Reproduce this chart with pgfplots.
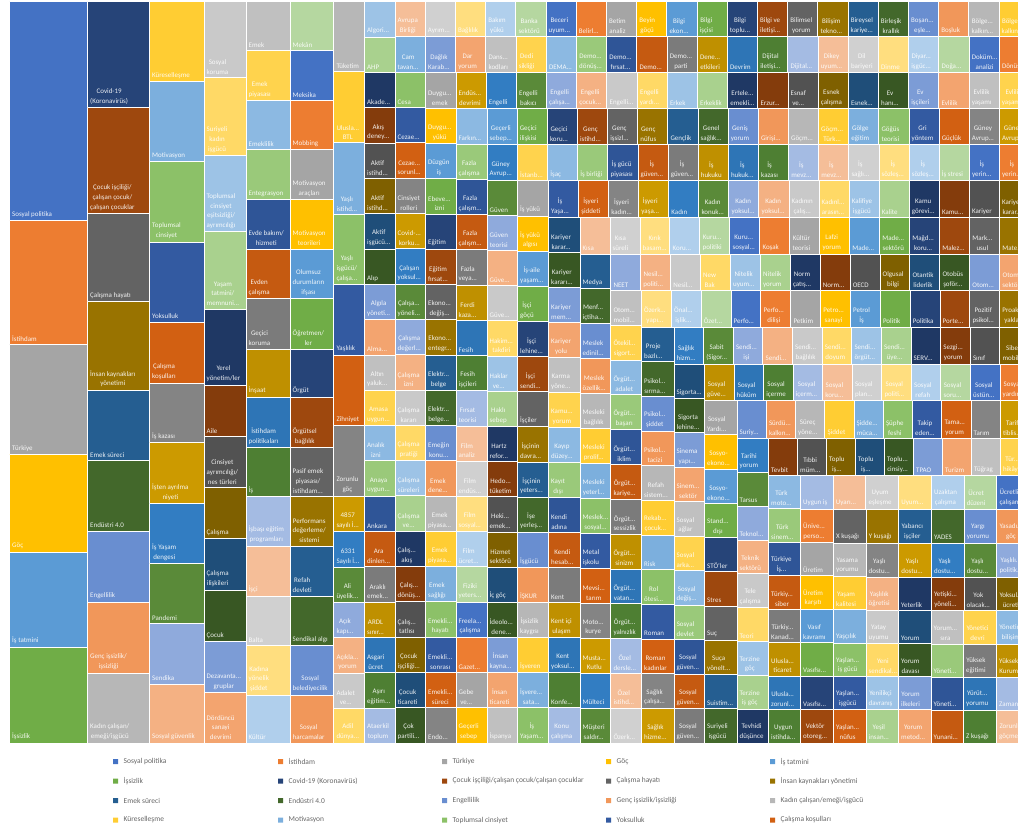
\documentclass[border=0pt]{standalone}
\usepackage{fontspec}
\setmainfont{Carlito}
\usepackage{pgfplots}
\pgfplotsset{compat=1.18}
\def\defc#1#2{\definecolor{c#1}{HTML}{#2}}
\defc{0}{4472C4}\defc{1}{ED7D31}\defc{2}{A5A5A5}\defc{3}{FFC000}\defc{4}{5B9BD5}\defc{5}{70AD47}
\defc{6}{264478}\defc{7}{9E480E}\defc{8}{636363}\defc{9}{997300}\defc{10}{255E91}\defc{11}{43682B}
\defc{12}{698ED0}\defc{13}{F1975A}\defc{14}{B7B7B7}\defc{15}{FFCD33}\defc{16}{7CAFDD}\defc{17}{8CC168}
\defc{18}{335AA1}\defc{19}{D26012}\defc{20}{848484}\defc{21}{CC9A00}\defc{22}{327DC2}\defc{23}{5A8A39}
\defc{24}{8FAADC}\defc{25}{F4B183}\defc{26}{C9C9C9}\defc{27}{FFD966}\defc{28}{9DC3E6}\defc{29}{A9D18E}
\defc{30}{1F3864}\defc{31}{843C0C}\defc{32}{525252}\defc{33}{7F6000}\defc{34}{1F4E79}\defc{35}{385723}
\defc{36}{7C9CD6}\defc{37}{F3A46F}\defc{38}{C0C0C0}\defc{39}{FFD34D}\defc{40}{8CB9E2}\defc{41}{9AC97A}
\defc{42}{2F5597}\defc{43}{C55A11}\defc{44}{7B7B7B}\defc{45}{BF9000}\defc{46}{2E75B6}\defc{47}{4E7F33}
\defc{48}{A4BBE3}\defc{49}{F5BE98}\defc{50}{D0D0D0}\defc{51}{FFDE7F}\defc{52}{B0CFEC}\defc{53}{B5D7A0}
\newcommand\m{...}
\newcommand\sla{/}
\newcounter{cidx}
\pgfplotsset{lab/.style={}}
\tikzset{lab/.style={anchor=south west,font=\fontsize{7}{9.8}\selectfont,text=white,text opacity=.9,align=center,inner xsep=2.5bp,inner ysep=3bp},
 leg/.style={anchor=west,font=\fontsize{7.5}{9}\selectfont,text=black!60,inner sep=0pt}}
\newcommand\cellx[5]{\edef\temp{\noexpand\addplot[forget plot,fill=c\arabic{cidx},draw=white,line width=1bp] coordinates {(#2,#3)(#4,#3)(#4,#5)(#2,#5)(#2,#3)};
 \noexpand\node[lab] at (axis cs:#2,#5) {\unexpanded{#1}};}\temp
 \stepcounter{cidx}\ifnum\value{cidx}=54 \setcounter{cidx}{0}\fi}
\newcommand\vstrip[4]{\xdef\cur{#3}\foreach \ee/\lb in {#4}{\expandafter\cellx\expandafter{\lb}{#1}{\cur}{#2}{\ee}\xdef\cur{\ee}}}
\newcommand\hstrip[4]{\xdef\cur{#3}\foreach \ee/\lb in {#4}{\expandafter\cellx\expandafter{\lb}{\cur}{#1}{\ee}{#2}\xdef\cur{\ee}}}
\newcommand\swatch[4]{\addplot[forget plot,fill=c#3,draw=none] coordinates {(#1,#2-2.5)(#1+5,#2-2.5)(#1+5,#2+2.5)(#1,#2+2.5)(#1,#2-2.5)};
 \node[leg] at (axis cs:#1+10.5,#2) {#4};}
\begin{document}
\begin{tikzpicture}
\path[use as bounding box] (0,0) rectangle (1018bp,834bp);
\clip (0,0) rectangle (1018bp,834bp);
\begin{axis}[at={(0,0)},anchor=south west,width=1018bp,height=834bp,scale only axis,hide axis,
 xmin=0,xmax=1018,ymin=0,ymax=834,y dir=reverse,enlargelimits=false,clip=false]
\vstrip{9.5}{87.5}{2}{221/Sosyal politika,344.7/İstihdam,454.5/Türkiye,552/Göç,647/İş tatmini,743/İşsizlik}
\vstrip{87.5}{149.5}{2}{107.7/Covid-19\\(Koronavirüs),213.5/Çocuk işçiliği\sla\\çalışan çocuk\sla\\çalışan çocuklar,301.7/Çalışma hayatı,390.3/İnsan kaynakları\\yönetimi,460.5/Emek süreci,531/Endüstri 4.0,602/Engellilik,673/Genç işsizlik\sla\\işsizliği,743/Kadın çalışan\sla\\emeği\sla işgücü}
\vstrip{149.5}{204}{2}{82/Küreselleşme,162/Motivasyon,242/Toplumsal\\cinsiyet,322/Yoksulluk,383/Çalışma\\koşulları,442.5/İş kazası,503.5/İşten ayrılma\\niyeti,563.5/İş Yaşam\\dengesi,623.3/Pandemi,684/Sendika,743/Sosyal güvenlik}
\vstrip{204}{246}{2}{78/Sosyal\\koruma,155.5/Suriyeli\\kadın\\işgücü,232/Toplumsal\\cinsiyet\\eşitsizliği\sla\\ayrımcılığı,309/Yaşam\\tatmini\sla\\memnuni\m,385/Yerel\\yönetim\sla ler,436.5/Aile,487.5/Cinsiyet\\ayrımcılığı\sla\\nes türleri,538.5/Çalışma,590/Çalışma\\ilişkileri,641.5/Çocuk,692.5/Dezavanta\m\\gruplar,743/Dördüncü\\sanayi\\devrimi}
\vstrip{246}{290}{2}{50.5/Emek,100.5/Emek\\piyasası,150/Emeklilik,200/Entegrasyon,249/Evde bakım\sla\\hizmeti,298.5/Evden\\çalışma,349/Geçici\\koruma,397/İnşaat,447.5/İstihdam\\politikaları,496.5/İş,546/İşbaşı eğitim\\programları,596/İşçi,645.5/Balta,695/Kadına\\yönelik\\şiddet,743/Kültür}
\vstrip{290}{333.8}{2}{50.5/Mekân,100.5/Meksika,150/Mobbing,200/Motivasyon\\araçları,249/Motivasyon\\teorileri,298.5/Olumsuz\\durumların\\ifşası,349/Öğretmen\sla\\ler,397/Örgüt,447.5/Örgütsel\\bağlılık,496.5/Pasif emek\\piyasası\sla\\istihdam\m,546/Performans\\değerleme\sla\\sistemi,596/Refah\\devleti,645.5/Sendikal algı,695/Sosyal\\belediyecilik,743/Sosyal\\harcamalar}
\vstrip{333.8}{364.5}{2}{71.8/Tüketim,143/Ulusla\m\\BTL,214.5/Yaşlı\\istihd\m,284.8/Yaşlı\\işgücü\sla\\çalışa\m,355.3/Yaşlılık,425.5/Zihniyet,496/Zorunlu\\göç,531.8/4857\\sayılı İ\m,567.5/6331\\Sayılı İ\m,602.4/Ali\\üyelik\m,637.4/Açık\\kapı\m,673.2/Açıkla\m\\yorum,708.2/Adalet\\ve\m,743/Adil\\dünya\m}
\vstrip{364.5}{395}{2}{37.3/Algori\m,72.6/AHP,107.9/Akade\m,143.2/Akış\\deney\m,178.5/Aktif\\istihd\m,213.8/Aktif\\istihd\m,249.1/Aktif\\işgücü\m,284.4/Alıp,319.7/Algıla\\yöneti\m,355/Alma\m,390.3/Altın\\yaluk\m,425.6/Amasa\\uygun\m,460.9/Analık\\izni,496.2/Anaya\\uygun\m,531.5/Ankara,566.8/Ara\\dinlen\m,602.1/Araklı\\emek\m,637.4/ARDL\\sınır\m,672.7/Asgari\\ücret,708/Aşırı\\eğitim\m,743/Ataerkil\\toplum}
\hstrip{2}{37}{395}{425.2/Avrupa\\Birliği,455.4/Ayrım\m,485.6/Bağlılık,515.8/Bakım\\yükü,546/Banka\\sektörü,576.2/Beceri\\uyum\m,606.4/Belirl\m,636.6/Betim\\analiz,666.8/Beyin\\göçü,697/Bilgi\\ekon\m,727.2/Bilgi\\işçisi,757.4/Bilgi\\toplu\m,787.6/Bilgi ve\\iletişi\m,817.8/Bilimsel\\yorum,848/Bilişim\\tekno\m,878.2/Bireysel\\kariye\m,908.4/Birleşik\\krallık,938.6/Boşan\m\\eşle\m,968.8/Boşluk,999/Bölge\m\\kalkın\m,1029.2/Bölge\m\\kalkın\m}
\vstrip{395}{425.5}{37}{72.3/Cam\\tavan\m,107.6/Cesa,142.9/Cezae\m,178.2/Cezae\m\\sorunl\m,213.5/Cinsiyet\\rolleri,248.8/Covid-\m\\korku\m,284.1/Çalışan\\yoksul\m,319.4/Çalışa\m\\yöneli\m,354.7/Çalışma\\değerl\m,390/Çalışma\\izni,425.3/Çalışma\\kararı,460.6/Çalışma\\pratiği,495.9/Çalışma\\süreleri,531.2/Çalışma\\ve\m,566.5/Çalış\m\\akış,601.8/Çalış\m\\dönüş\m,637.1/Çalış\m\\tatlısı,672.4/Çocuk\\işçiliği\m,707.7/Çocuk\\ticareti,743/Çok\\partili\m}
\hstrip{37}{73}{425.5}{455.7/Dağlık\\Karab\m,485.9/Dar\\yorum,516.1/Dans\m\\kodları,546.3/Dedi\\sikliği,576.5/DEMA\m,606.7/Demo\m\\dönüş\m,636.9/Demo\m\\fırsat\m,667.1/Demo\m,697.3/Demo\m\\parti,727.5/Dene\m\\etkileri,757.7/Devrim,787.9/Dijital\\iletişi\m,818.1/Dijital\m,848.3/Dikey\\uyum\m,878.5/Dil\\bariyeri,908.7/Dinme,938.9/Diyar\m\\işgüc\m,969.1/Doğa\m,999.3/Doküm\m\\analizi,1029.5/Dönüş\m}
\vstrip{425.5}{456}{73}{108.3/Duygu\m\\emek,143.5/Duygu\m\\yükü,178.8/Düzgün\\iş,214.1/Ebeve\m\\izni,249.3/Eğitim,284.6/Eğitim\\fırsat\m,319.8/Ekono\m\\değiş\m,355.1/Ekono\m\\entegr\m,390.4/Elektr\m\\belge,425.6/Elektr\m\\belge\m,460.9/Emeğin\\konu\m,496.1/Emek\\dene\m,531.4/Emek\\piyasa\m,566.7/Emek\\piyasa\m,601.9/Emek\\sağlığı,637.2/Emekli\m\\hayatı,672.4/Emekli\m\\sonrası,707.7/Emekli\m\\süreci,743/Endo\m}
\hstrip{73}{109}{456}{486.2/Endüs\m\\devrimi,516.4/Engelli,546.5/Engelli\\bakıcı,576.7/Engelli\\çalışa\m,606.9/Engelli\\çocuk\m,637.1/Engelli\m,667.3/Engelli\\yardı\m,697.4/Erkek,727.6/Erkeklik,757.8/Ertele\m\\emekli\m,788/Erzur\m,818.2/Esnaf\\ve\m,848.3/Esnek\\çalışma,878.5/Esnek\m,908.7/Ev\\hanı\m,938.9/Ev\\işçileri,969.1/Evlilik,999.2/Evlilik\\yaşamı,1029.4/Evlilik\\yaşam\m}
\vstrip{456}{487}{109}{144.2/Farkın\m,179.4/Fazla\\çalışma,214.7/Fazla\\çalışm\m,249.9/Fazla\\çalışm\m,285.1/Fazla\\veya\m,320.3/Ferdi\\kaza\m,355.5/Fesih,390.8/Fesih\\işçileri,426/Fırsat\\teorisi,461.2/Film\\analiz,496.4/Film\\endüs\m,531.6/Film\\sosyal\m,566.9/Film\\ücret\m,602.1/Fiziki\\yeters\m,637.3/Freela\m\\çalışma,672.5/Gazet\m,707.8/Gebe\\ve\m,743/Geçerli\\sebep}
\hstrip{109}{145}{487}{517.1/Geçerli\\sebep\m,547.3/Geçici\\ilişkisi,577.4/Geçici\\koru\m,607.6/Genç\\istihd\m,637.7/Genç\\işsizl\m,667.8/Genç\\nüfus,698/Gençlik,728.1/Genel\\sağlık\m,758.3/Geniş\\yorum,788.4/Girişi\m,818.5/Göçm\m,848.7/Göçm\m\\Türk\m,878.8/Gölge\\eğitim,909/Göğüs\\teorisi,939.1/Gri\\yöntem,969.2/Güçlük,999.3/Güney\\Avrup\m,1029.5/Güney\\Avrup\m}
\vstrip{487}{517.5}{145}{180.2/Güney\\Avrup\m,215.4/Güven,250.5/Güven\\teorisi,285.7/Güve\m,320.9/Güve\m,356.1/Hakim\m\\takdiri,391.3/Haklar\\ve\m,426.4/Haklı\\sebep,461.6/Hartz\\refor\m,496.8/Hedo\m\\tüketim,532/Heki\m\\emek\m,567.1/Hizmet\\sektörü,602.3/İç göç,637.5/İdeolo\m\\dene\m,672.7/İnsan\\kayna\m,707.8/İnsan\\ticareti,743/İspanya}
\hstrip{145}{181}{517.5}{547.6/İstanb\m,577.7/İşaç,607.9/İş birliği,638/İş gücü\\piyasası,668.1/İş\\güven\m,698.2/İş\\güven\m,728.3/İş\\hukuku,758.5/İş\\hukuk\m,788.6/İş\\kazası,818.7/İş\\mevz\m,848.8/İş\\mevz\m,879/İş\\sağlı\m,909.1/İş\\sözleş\m,939.2/İş\\sözleş\m,969.3/İş stresi,999.4/İş\\yerin\m,1029.5/İş\\yerin\m}
\vstrip{517.5}{548.5}{181}{216.1/İş yükü,251.3/İş yükü\\algısı,286.4/İş-aile\\yaşam\m,321.5/İşçi\\göçü,356.6/İşçi\\lehine\m,391.8/İşçi\\sendi\m,426.9/İşçiler,462/İşçinin\\davra\m,497.1/İşçinin\\yeters\m,532.3/İşe\\yerleş\m,567.4/İşgücü,602.5/İŞKUR,637.6/İşsizlik\\kaygısı,672.8/İşveren,707.9/İşvere\m\\sata\m,743/İş\\Yaşam\m}
\hstrip{181}{217.5}{548.5}{578.6/İş\\Yaşa\m,608.6/İşyeri\\şiddeti,638.7/İşyeri\\kadın\m,668.7/İşyeri\\yaşa\m,698.8/Kadın,728.9/Kadın\\konuk\m,758.9/Kadın\\yoksul\m,789/Kadın\\yoksul\m,819/Kadının\\çalış\m,849.1/Kadınl\m\\arasın\m,879.2/Kalifiye\\işgücü,909.2/Kalite,939.3/Kamu\\görevi\m,969.3/Kamu\m,999.4/Kariyer,1029.5/Kariyer\\karar\m}
\vstrip{548.5}{580}{217.5}{252.5/Kariyer\\karar\m,287.6/Kariyer\\kararı\m,322.6/Kariyer\\mem\m,357.6/Kariyer\\yolu,392.7/Karma\\yöne\m,427.7/Kamu\m\\yorum,462.7/Kayıp\\düzey\m,497.7/Kayıt\\dışı,532.8/Kendi\\adına,567.8/Kendi\\hesab\m,602.8/Kent,637.9/Kent içi\\ulaşım,672.9/Kent\\yoksul\m,707.9/Konfe\m,743/Konu\\çalışma}
\hstrip{217.5}{254}{580}{610/Kısa,640/Kısa\\süreli,669.9/Kırık\\basam\m,699.9/Koru\m,729.9/Kuru\m\\politiki,759.8/Kuru\m\\sosyal\m,789.8/Koşak,819.8/Kültür\\teorisi,849.7/Lafzi\\yorum,879.7/Made\m,909.7/Made\m\\sektörü,939.6/Mağd\m\\koru\m,969.6/Malez\m,999.6/Mark\m\\usul,1029.5/Mate\m}
\vstrip{580}{610.8}{254}{288.9/Medya,323.9/Menf\m\\içtiha\m,358.8/Meslek\\edinil\m,393.7/Meslek\\özellik\m,428.6/Mesleki\\bağlılık,463.6/Mesleki\\prolif\m,498.5/Mesleki\\yeterl\m,533.4/Meslek\m\\sosyal\m,568.4/Metal\\işkolu,603.3/Mevsi\m\\tarım,638.2/Moto\m\\kurye,673.1/Musta\m\\Kutlu,708.1/Mülteci,743/Müşteri\\saldır\m}
\hstrip{254}{290.5}{610.8}{640.7/NEET,670.6/Nesil\m\\politi\m,700.5/Nesil\m,730.4/New\\Bak,760.4/Nitelik\\uyum\m,790.3/Nitelik\\yorum,820.2/Norm\\çatış\m,850.1/Norm\m,880/OECD,909.9/Olgusal\\bilgi,939.8/Otantik\\liderlik,969.7/Otobüs\\şoför\m,999.6/Otom\m,1029.5/Otom\m\\sektör\m}
\vstrip{610.8}{641.5}{290.5}{325.3/Otom\m\\mobil\m,360.1/Ötekil\m\\sigort\m,394.9/Örgüt\m\\adalet,429.7/Örgüt\m\\başarı,464.5/Örgüt\m\\iklim,499.4/Örgüt\m\\kariye\m,534.2/Örgüt\m\\sessizlik,569/Örgüt\m\\sinizm,603.8/Örgüt\m\\vatan\m,638.6/Örgüt\m\\yalnızlık,673.4/Özel\\dersle\m,708.2/Özel\\istihd\m,743/Özerk\m}
\hstrip{290.5}{327}{641.5}{671.4/Özerk\m\\yapı\m,701.2/Önal\m\\işlik\m,731/Özet\m,760.9/Perfo\m,790.8/Perfo\m\\dilişi,820.6/Petkim,850.4/Petro\m\\sanayi,880.3/Petrol\\İş,910.2/Politik,940/Politika,969.8/Porte\m,999.7/Pozitif\\psikol\m,1029.5/Proakt\m\\yakla\m}
\vstrip{641.5}{674}{327}{361.7/Proje\\bazlı\m,396.3/Psikol\m\\sırma\m,431/Psikol\m\\şiddet,465.7/Psikol\m\\tacizi,500.3/Refah\\sistem\m,535/Rekab\m\\çocuk\m,569.7/Risk,604.3/Rol\\ötesi\m,639/Roman,673.7/Roman\\kadınlar,708.3/Sağlık\\çalışa\m,743/Sağlık\\hizme\m}
\hstrip{327}{364}{674}{703.6/Sağlık\\hizm\m,733.3/Sabit\\(Sigor\m,762.9/Sendi\m\\işi,792.5/Sendi\m,822.2/Sendi\m\\bağlılık,851.8/Sendi\m\\doyum,881.4/Sendi\m\\örgüt\m,911/Sendi\m\\üye\m,940.7/SERV\m,970.3/Sezgi\m\\yorum,999.9/Sınıf,1029.5/Siber\\mobil\m}
\vstrip{674}{704.5}{364}{398.5/Sigorta\m,432.9/Sigorta\\lehine\m,467.4/Sinema\\yapı\m,501.8/Sinem\m\\sektör,536.3/Sosyal\\ağlar,570.7/Sosyal\\arka\m,605.2/Sosyal\\değiş\m,639.6/Sosyal\\devlet,674.1/Sosyal\\güven\m,708.5/Sosyal\\güven\m,743/Sosyal\\güven\m}
\hstrip{364}{400.5}{704.5}{734/Sosyal\\güve\m,763.6/Sosyal\\hüküm,793.2/Sosyal\\içerme,822.7/Sosyal\\içerm\m,852.3/Sosyal\\koru\m,881.8/Sosyal\\plan\m,911.4/Sosyal\\politi\m,940.9/Sosyal\\refah,970.5/Sosyal\\soru\m,1000/Sosyal\\üstün\m,1029.5/Sosyal\\yardım}
\vstrip{704.5}{737}{400.5}{434.8/Sosyal\\Yardı\m,469/Sosyo-\\ekono\m,503.3/Sosyo-\\ekono\m,537.5/Stand\m\\dışı,571.8/STÖ'ler,606/Stres,640.3/Suç,674.5/Suça\\yönelt\m,708.8/Suistim\m,743/Suriyeli\\işgücü}
\hstrip{400.5}{438.5}{737}{766.3/Suriy\m,795.5/Sürdü\m\\kalkın\m,824.8/Süreç\\yöne\m,854/Şiddet,883.3/Şidde\m\\müca\m,912.5/Şüphe\\feshi,941.8/Takip\\eden\m,971/Tama\m\\yorum,1000.3/Tarım,1029.5/Tarif\\tiblis\m}
\vstrip{737}{768.5}{438.5}{472.3/Tarihi\\yorum,506.2/Tarsus,540/Teknol\m,573.8/Teknik\\sektörü,607.7/Tele\\çalışma,641.5/Teori,675.3/Terzine\\göç,709.2/Terzine\\iş göç,743/Tevhidi\\düşünce}
\hstrip{438.5}{475.5}{768.5}{797.5/Tevbit,826.5/Tıbbi\\müm\m,855.5/Toplu\\iş\m,884.5/Toplu\\iş\m,913.5/Toplu\m\\cinsiy\m,942.5/TPAO,971.5/Turizm,1000.5/Tüğrag,1029.5/Tür\m\\hikâye}
\vstrip{768.5}{800.5}{475.5}{508.9/Türk\\moto\m,542.4/Türk\\sinem\m,575.8/Türkiye\\İş\m,609.3/Türkiy\m\\siber,642.7/Türkiy\m\\Kanad\m,676.1/Ulusla\m\\ticaret,709.6/Ulusla\m\\zorunl\m,743/Uygun\\istihda\m}
\hstrip{475.5}{509}{800.5}{833.2/Uygun iş,865.9/Uyarı\m,898.6/Uyum\\eşleşme,931.4/Uyum\m,964.1/Uzaktan\\çalışma,996.8/Ücret\\düzeni,1029.5/Ücretli\\çalışan}
\vstrip{800.5}{833.5}{509}{542.4/Ünive\m\\perso\m,575.9/Üretim,609.3/Üretim\\karşıtı,642.7/Vasıf\\kavramı,676.1/Vasıfsı\m,709.6/Vasıfsı\m,743/Vektör\\otoreg\m}
\hstrip{509}{543}{833.5}{866.2/X kuşağı,898.8/Y kuşağı,931.5/Yabancı\\işçiler,964.2/YADES,996.8/Yargı\\yorumu,1029.5/Yasadı\m\\göç}
\vstrip{833.5}{866}{543}{576.3/Yasama\\yorumu,609.7/Yaşam\\kalitesi,643/Yaşçılık,676.3/Yaşlan\m\\iş gücü,709.7/Yaşlan\m\\işgücü,743/Yaşlan\m\\nüfus}
\hstrip{543}{577}{866}{898.7/Yaşlı\\dostu\m,931.4/Yaşlı\\dostu\m,964.1/Yaşlı\\dostu\m,996.8/Yaşlı\\dostu\m,1029.5/Yaşlılı\m\\politik\m}
\vstrip{866}{898.5}{577}{610.2/Yaşlılık\\öğretisi,643.4/Yatay\\uyumu,676.6/Yeni\\sendikal\m,709.8/Yenilikçi\\davranış,743/Yeşil\\insan\m}
\hstrip{577}{610.5}{898.5}{931.3/Yeterlik,964/Yetişki\m\\yöneli\m,996.8/Yok\\olacak\m,1029.5/Yoksul\m\\ücreti}
\vstrip{898.5}{931}{610.5}{643.6/Yorum,676.8/Yorum\\davası,709.9/Yorum\\ilkeleri,743/Yorum\\metod\m}
\hstrip{610.5}{644}{931}{963.8/Yorum\m\\sıra,996.6/Yönetici\\devri,1029.5/Yönetim\\bilişim}
\vstrip{931}{963.5}{644}{677/Yöneti\m,710/Yöneti\m,743/Yunani\m}
\cellx{Yüksek\\eğitimi}{963.5}{644}{996.5}{677}
\cellx{Yüksek\\Kurum}{996.5}{644}{1029.5}{677}
\cellx{Yürüt\m\\yorumu}{963.5}{677}{996.5}{710}
\cellx{Z kuşağı}{963.5}{710}{996.5}{743}
\cellx{Zaman\m}{996.5}{677}{1029.5}{710}
\cellx{Zorunlu\\göçmen}{996.5}{710}{1029.5}{743}
\swatch{113}{761.7}{0}{Sosyal politika}
\swatch{278}{761.7}{1}{İstihdam}
\swatch{442}{761.7}{2}{Türkiye}
\swatch{606}{761.7}{3}{Göç}
\swatch{770}{761.7}{4}{İş tatmini}
\swatch{113}{781}{5}{İşsizlik}
\swatch{278}{781}{6}{Covid-19 (Koronavirüs)}
\swatch{442}{781}{7}{Çocuk işçiliği/çalışan çocuk/çalışan çocuklar}
\swatch{606}{781}{8}{Çalışma hayatı}
\swatch{770}{781}{9}{İnsan kaynakları yönetimi}
\swatch{113}{800.7}{10}{Emek süreci}
\swatch{278}{800.7}{11}{Endüstri 4.0}
\swatch{442}{800.7}{12}{Engellilik}
\swatch{606}{800.7}{13}{Genç işsizlik/işsizliği}
\swatch{770}{800.7}{14}{Kadın çalışan/emeği/işgücü}
\swatch{113}{820}{15}{Küreselleşme}
\swatch{278}{820}{16}{Motivasyon}
\swatch{442}{820}{17}{Toplumsal cinsiyet}
\swatch{606}{820}{18}{Yoksulluk}
\swatch{770}{820}{19}{Çalışma koşulları}
\end{axis}
\end{tikzpicture}
\end{document}
